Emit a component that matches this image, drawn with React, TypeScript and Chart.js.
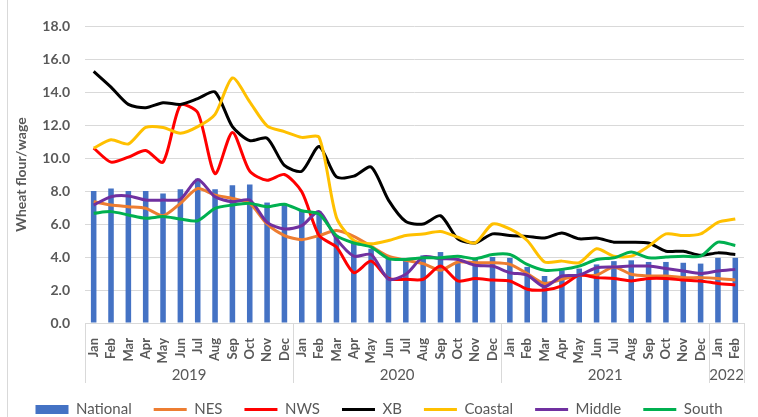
import React, { useEffect, useRef } from 'react';
import { Chart, registerables } from 'chart.js';

Chart.register(...registerables);

const years = ['2019', '2020', '2021', '2022'];
const monthsInYear = [12, 12, 12, 2];
const monthNames = ['Jan', 'Feb', 'Mar', 'Apr', 'May', 'Jun', 'Jul', 'Aug', 'Sep', 'Oct', 'Nov', 'Dec'];
const months = years.flatMap((_, i) => monthNames.slice(0, monthsInYear[i]));

const yTicks = [0, 2, 4, 6, 8, 10, 12, 14, 16, 18];

const national = [8.0, 8.15, 8.0, 8.0, 7.85, 8.1, 8.75, 8.1, 8.35, 8.4, 7.3, 7.15, 6.8, 6.75, 5.2, 4.9, 4.5, 3.9, 3.9, 4.1, 4.3, 3.7, 3.9, 4.0, 3.95, 3.4, 2.85, 3.2, 3.3, 3.55, 3.75, 3.8, 3.7, 3.7, 3.65, 3.6, 3.95, 3.95];
const nes = [7.35, 7.15, 7.05, 6.95, 6.5, 7.25, 8.15, 7.75, 7.55, 7.25, 6.0, 5.3, 5.05, 5.3, 5.6, 5.25, 4.65, 4.05, 3.8, 3.6, 3.2, 3.7, 3.65, 3.65, 3.55, 3.0, 2.4, 2.65, 2.9, 2.9, 3.4, 2.95, 2.85, 2.85, 2.75, 2.75, 2.7, 2.6];
const nws = [10.6, 9.75, 10.05, 10.45, 9.75, 13.2, 12.75, 9.05, 11.55, 9.2, 8.65, 9.0, 7.95, 5.3, 4.6, 3.05, 3.75, 2.7, 2.65, 2.65, 3.45, 2.55, 2.7, 2.6, 2.55, 2.05, 2.0, 2.25, 2.9, 2.75, 2.7, 2.55, 2.7, 2.7, 2.6, 2.55, 2.4, 2.3];
const xb = [15.25, 14.3, 13.25, 13.05, 13.35, 13.25, 13.6, 14.0, 11.9, 11.05, 11.2, 9.55, 9.2, 10.7, 8.85, 8.9, 9.45, 7.45, 6.15, 6.0, 6.5, 5.1, 4.85, 5.4, 5.3, 5.25, 5.15, 5.45, 5.1, 5.15, 4.9, 4.9, 4.85, 4.35, 4.35, 4.1, 4.25, 4.15];
const coastal = [10.6, 11.1, 10.85, 11.85, 11.85, 11.5, 11.9, 12.65, 14.85, 13.4, 11.95, 11.6, 11.25, 11.25, 6.4, 5.0, 4.8, 5.0, 5.3, 5.4, 5.55, 5.2, 4.85, 6.0, 5.7, 5.0, 3.7, 3.75, 3.65, 4.5, 4.05, 4.05, 4.65, 5.4, 5.3, 5.4, 6.1, 6.3];
const middle = [7.15, 7.65, 7.7, 7.45, 7.45, 7.5, 8.7, 7.65, 7.35, 7.45, 6.1, 5.7, 5.9, 6.75, 5.1, 4.05, 4.15, 2.65, 2.95, 4.0, 3.9, 3.85, 3.5, 3.45, 3.05, 2.9, 2.2, 2.85, 2.9, 3.35, 3.4, 3.45, 3.45, 3.3, 3.15, 3.0, 3.15, 3.25];
const south = [6.65, 6.75, 6.55, 6.35, 6.45, 6.3, 6.2, 6.95, 7.15, 7.25, 7.05, 7.2, 6.8, 6.6, 5.3, 4.85, 4.6, 3.9, 3.85, 3.95, 3.95, 4.05, 3.9, 4.15, 4.15, 3.55, 3.2, 3.25, 3.45, 3.85, 3.95, 4.3, 3.95, 4.0, 4.05, 4.05, 4.9, 4.7];

const FONT = 'Lato, "Open Sans", sans-serif';
const GREY = '#595959';
const GRID = '#d9d9d9';

const yearPlugin = {
  id: 'yearGroups',
  afterDraw(chart: any) {
    const xs = chart.scales.x;
    const ctx = chart.ctx;
    const bottom = chart.chartArea.bottom;
    const half = (xs.getPixelForValue(1) - xs.getPixelForValue(0)) / 2;
    ctx.save();
    ctx.strokeStyle = GRID;
    ctx.lineWidth = 1;
    ctx.fillStyle = GREY;
    ctx.font = `15px ${FONT}`;
    ctx.textAlign = 'center';
    ctx.textBaseline = 'middle';
    let start = 0;
    const drawSep = (px: number) => {
      const x = Math.round(px) + 0.5;
      ctx.beginPath();
      ctx.moveTo(x, bottom);
      ctx.lineTo(x, bottom + 60);
      ctx.stroke();
    };
    drawSep(xs.getPixelForValue(0) - half);
    years.forEach((y, i) => {
      const end = start + monthsInYear[i] - 1;
      const l = xs.getPixelForValue(start) - half;
      const r = xs.getPixelForValue(end) + half;
      drawSep(r);
      ctx.fillText(y, (l + r) / 2, bottom + 52);
      start = end + 1;
    });
    ctx.beginPath();
    ctx.moveTo(7.5, 0);
    ctx.lineTo(7.5, chart.height);
    ctx.stroke();
    ctx.restore();
  },
};

const lineDs = (label: string, data: number[], color: string, order: number) => ({
  type: 'line' as const,
  label,
  data,
  borderColor: color,
  backgroundColor: color,
  borderWidth: 3,
  pointRadius: 0,
  pointHoverRadius: 0,
  pointStyle: 'line',
  tension: 0.25,
  order,
});

export default function App() {
  const ref = useRef<HTMLCanvasElement>(null);
  useEffect(() => {
    if (!ref.current) return;
    const chart = new Chart(ref.current, {
      type: 'bar',
      data: {
        labels: months,
        datasets: [
          {
            type: 'bar',
            label: 'National',
            data: national,
            backgroundColor: '#4472C4',
            borderWidth: 0,
            barPercentage: 0.32,
            categoryPercentage: 1,
            pointStyle: 'rect',
            order: 10,
          } as any,
          lineDs('NES', nes, '#ED7D31', 6),
          lineDs('NWS', nws, '#FF0000', 5),
          lineDs('XB', xb, '#000000', 4),
          lineDs('Coastal', coastal, '#FFC000', 3),
          lineDs('Middle', middle, '#7030A0', 2),
          lineDs('South', south, '#00B050', 1),
        ],
      },
      options: {
        responsive: false,
        animation: false,
        maintainAspectRatio: false,
        layout: { padding: { left: 8, right: 8, top: 26, bottom: -10 } },
        plugins: {
          tooltip: { enabled: false },
          legend: {
            position: 'bottom',
            labels: {
              usePointStyle: true,
              pointStyleWidth: 33,
              boxHeight: 9,
              padding: 22,
              color: GREY,
              font: { family: FONT, size: 15 },
              sort: (a: any, b: any) => a.datasetIndex - b.datasetIndex,
            },
          },
        },
        scales: {
          x: {
            grid: { display: false },
            border: { display: true, color: GRID },
            ticks: {
              autoSkip: false,
              minRotation: 90,
              maxRotation: 90,
              padding: 7,
              color: GREY,
              font: { family: FONT, size: 13, weight: 'bold' },
            },
            afterFit: (s: any) => {
              s.height = 57;
            },
          },
          y: {
            min: 0,
            max: 18,
            afterBuildTicks: (s: any) => {
              s.ticks = yTicks.map((v) => ({ value: v }));
            },
            grid: { color: GRID, drawTicks: false },
            border: { display: false },
            ticks: {
              padding: 15,
              color: GREY,
              font: { family: FONT, size: 14, weight: 'bold' },
              callback: (v: any) => Number(v).toFixed(1),
            },
            title: {
              display: true,
              text: 'Wheat flour/wage',
              color: GREY,
              font: { family: FONT, size: 14, weight: 'bold' },
              padding: { top: 5, bottom: 4 },
            },
            afterFit: (s: any) => {
              s.width = 77;
            },
          },
        },
      },
      plugins: [yearPlugin],
    });
    return () => chart.destroy();
  }, []);
  return (
    <div style={{ position: 'fixed', left: 0, top: 0, width: 758, height: 417, background: '#fff' }}>
      <canvas ref={ref} width={758} height={417} style={{ width: 758, height: 417, display: 'block' }} />
    </div>
  );
}
